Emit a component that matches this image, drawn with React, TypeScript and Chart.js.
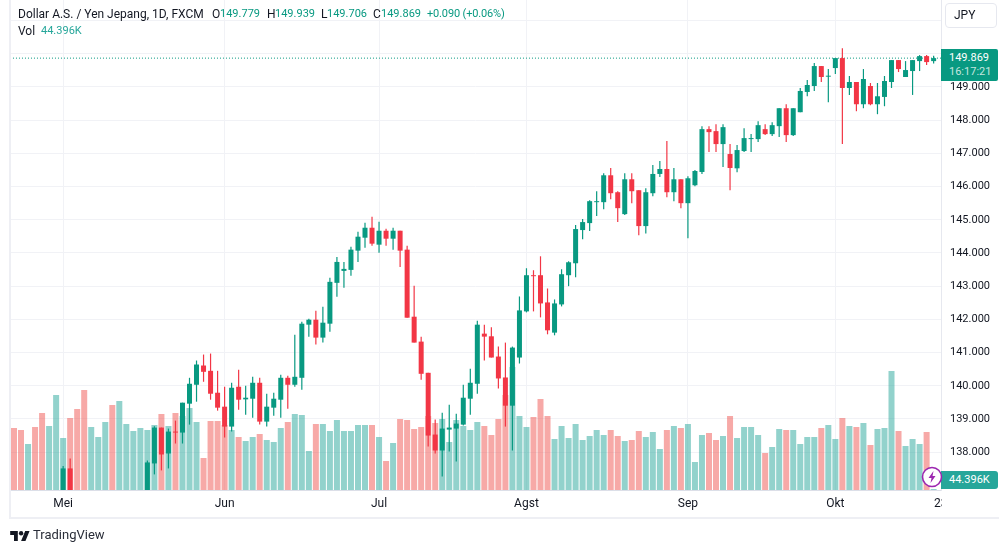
import { useRef, useEffect } from 'react';
import { Chart, registerables } from 'chart.js';

Chart.register(...registerables);

const UP = '#089981';
const DOWN = '#f23645';
const UP_VOL = 'rgba(38, 166, 154, 0.5)';
const DOWN_VOL = 'rgba(239, 83, 80, 0.5)';
const GRID = '#f1f2f6';
const TEXT = '#131722';
const FONT = 'Roboto, sans-serif';

const monthTicks = [7, 30, 52, 73, 96, 117, 132];
const monthLabels = ['Mei', 'Jun', 'Jul', 'Agst', 'Sep', 'Okt', '23'];
const priceTicks = [138, 139, 140, 141, 142, 143, 144, 145, 146, 147, 148, 149, 150, 151];
const lastPrice = 149.869;

const opens = [
  136.3, 136.1, 135.7, 136.0, 135.6, 135.0, 135.4, 136.3, 137.51, 136.4,
  135.1, 134.0, 134.8, 134.9, 135.1, 134.4, 135.7, 136.3, 136.4, 136.7,
  137.66, 138.74, 137.96, 138.62, 138.59, 139.46, 140.03, 140.61, 140.45, 139.79,
  139.37, 138.77, 139.97, 139.59, 139.61, 140.09, 138.92, 139.34, 139.58, 140.24,
  140.03, 140.24, 141.84, 141.99, 141.45, 141.87, 143.1, 143.46, 143.49, 144.07,
  144.46, 144.76, 144.25, 144.67, 144.43, 144.67, 144.1, 142.08, 141.33, 140.39,
  138.53, 138.05, 138.68, 138.71, 138.83, 139.61, 140.06, 141.57, 141.49, 140.88,
  140.25, 139.4, 140.85, 142.24, 143.33, 143.33, 142.51, 141.6, 142.45, 143.33,
  143.69, 144.69, 144.9, 145.53, 145.53, 146.34, 145.83, 145.17, 146.22, 145.89,
  144.81, 145.8, 146.38, 146.53, 145.83, 146.22, 145.5, 146.04, 146.44, 147.73,
  147.67, 147.28, 146.98, 146.55, 147.07, 147.43, 147.43, 147.73, 147.58, 147.82,
  148.36, 147.55, 148.24, 148.85, 149.03, 149.63, 149.31, 149.57, 149.87, 148.97,
  149.15, 148.48, 149.03, 148.48, 148.7, 149.15, 149.81, 149.3, 149.48, 149.78,
  149.93, 149.779,
];
const highs = [
  136.6, 136.4, 136.2, 136.3, 135.9, 135.6, 136.4, 137.58, 137.81, 136.7,
  135.4, 135.1, 135.0, 135.4, 135.4, 135.8, 136.6, 136.7, 136.8, 137.75,
  138.78, 138.74, 138.71, 138.95, 139.49, 140.24, 140.76, 140.94, 140.97, 140.45,
  139.97, 140.09, 140.48, 140.0, 140.27, 140.24, 139.76, 139.79, 140.33, 140.3,
  141.54, 141.93, 142.02, 142.26, 142.38, 143.25, 143.88, 143.73, 144.19, 144.64,
  144.91, 145.09, 144.94, 144.73, 144.76, 144.67, 144.22, 143.01, 141.48, 140.39,
  138.98, 139.19, 139.43, 139.16, 140.03, 140.51, 141.96, 141.84, 141.76, 141.18,
  141.3, 141.18, 142.69, 143.54, 143.48, 143.9, 142.93, 142.6, 143.51, 143.75,
  144.84, 145.02, 145.59, 145.86, 146.4, 146.56, 145.86, 146.4, 146.4, 145.89,
  145.95, 146.65, 146.77, 147.37, 146.56, 146.22, 146.31, 146.5, 147.82, 147.82,
  147.88, 147.88, 147.28, 147.25, 147.76, 147.58, 147.97, 147.88, 147.94, 148.36,
  148.48, 148.36, 148.97, 149.21, 149.72, 149.63, 149.54, 149.87, 150.17, 149.33,
  149.15, 149.54, 149.12, 149.12, 149.33, 149.81, 149.81, 149.78, 149.81, 149.96,
  149.96, 149.939,
];
const lows = [
  135.9, 135.6, 135.5, 135.4, 134.8, 134.6, 135.2, 136.1, 136.2, 134.8,
  133.6, 133.7, 134.0, 134.2, 134.2, 134.3, 135.2, 135.8, 136.0, 136.4,
  137.33, 137.45, 137.51, 138.26, 138.26, 138.83, 139.52, 140.12, 139.58, 139.25,
  138.44, 138.62, 139.28, 139.13, 139.04, 138.83, 138.77, 139.1, 139.04, 139.31,
  139.97, 139.88, 141.48, 141.24, 141.3, 141.63, 142.68, 142.95, 143.31, 143.73,
  144.16, 144.22, 144.01, 144.22, 144.1, 143.58, 142.05, 141.3, 140.18, 138.17,
  137.96, 137.27, 138.02, 137.72, 138.8, 139.13, 139.76, 140.76, 140.85, 139.92,
  138.77, 138.05, 140.67, 142.21, 142.24, 142.06, 141.55, 141.52, 142.39, 143.0,
  143.27, 144.41, 144.66, 145.11, 145.32, 145.62, 144.93, 145.14, 145.5, 144.53,
  144.59, 145.71, 146.29, 145.68, 145.56, 145.35, 144.44, 146.01, 146.38, 147.04,
  147.04, 146.59, 145.89, 146.43, 147.04, 147.04, 147.34, 147.55, 147.52, 147.49,
  147.34, 147.52, 148.24, 148.72, 148.88, 149.15, 148.54, 149.39, 147.28, 148.76,
  148.27, 148.36, 148.45, 148.18, 148.42, 148.97, 149.45, 149.3, 148.76, 149.48,
  149.66, 149.706,
];
const closes = [
  136.1, 135.8, 136.0, 135.6, 135.0, 135.4, 136.3, 137.51, 136.4, 135.1,
  134.0, 134.8, 134.9, 135.1, 134.4, 135.7, 136.3, 136.4, 136.7, 137.69,
  138.74, 137.93, 138.62, 138.59, 139.49, 140.06, 140.64, 140.42, 139.76, 139.34,
  138.77, 139.94, 139.58, 139.64, 140.09, 138.92, 139.37, 139.61, 140.24, 140.03,
  140.27, 141.87, 141.99, 141.45, 141.9, 143.13, 143.73, 143.52, 144.1, 144.49,
  144.76, 144.28, 144.67, 144.43, 144.67, 144.07, 142.05, 141.3, 140.36, 138.5,
  138.05, 138.71, 138.74, 138.86, 139.64, 140.09, 141.84, 141.48, 140.85, 140.22,
  139.4, 141.15, 142.27, 143.33, 143.3, 142.48, 141.67, 142.48, 143.36, 143.72,
  144.72, 144.93, 145.56, 145.56, 146.34, 145.8, 145.35, 146.22, 145.86, 144.81,
  145.83, 146.38, 146.53, 145.83, 146.22, 145.5, 146.25, 146.47, 147.73, 147.64,
  147.28, 147.79, 146.56, 147.1, 147.46, 147.46, 147.85, 147.58, 147.85, 148.36,
  147.55, 148.36, 148.88, 149.06, 149.63, 149.3, 149.34, 149.87, 148.97, 149.15,
  148.48, 149.24, 148.48, 148.72, 149.18, 149.81, 149.54, 149.51, 149.81, 149.93,
  149.75, 149.869,
];
// volume in thousands
const volumes = [
  2790, 2700, 2070, 2835, 3465, 2880, 4275, 2340, 3240, 3645,
  4500, 2835, 2385, 3060, 3825, 4005, 2970, 2655, 2790, 2700,
  2925, 3420, 2880, 3465, 3330, 3690, 3060, 1440, 3105, 3105,
  2925, 2700, 2385, 2205, 2385, 2520, 2250, 2160, 2790, 3060,
  3420, 3375, 1755, 2970, 2970, 2655, 3150, 2655, 2655, 2925,
  2925, 2925, 2385, 1305, 2115, 3195, 3150, 2745, 2835, 3330,
  3015, 3195, 2160, 3150, 2880, 2700, 3060, 2880, 2475, 3195,
  4275, 5535, 3330, 2835, 3285, 4095, 3330, 2295, 2880, 2340,
  2970, 2250, 2430, 2700, 2475, 2700, 2430, 2205, 2250, 2655,
  2385, 2610, 1845, 2700, 2880, 2790, 2970, 1260, 2475, 2565,
  2250, 2430, 3330, 2340, 2835, 2835, 2475, 1665, 1935, 2745,
  2700, 2700, 2070, 2385, 2385, 2790, 2925, 2295, 3240, 2880,
  2835, 3015, 2025, 2745, 2790, 5355, 2655, 1980, 2295, 2070,
  2610, 44.396,
];

// hides the part of the last date label that runs under the price scale
const scaleMask = {
  id: 'scaleMask',
  afterDraw(chart: Chart) {
    const { ctx, chartArea } = chart;
    ctx.save();
    ctx.fillStyle = '#ffffff';
    ctx.fillRect(chartArea.right + 1, chartArea.bottom + 1, 60, 26);
    ctx.restore();
  },
};

function fixBox(size: 'width' | 'height', value: number) {
  return (scale: any) => {
    scale[size] = value;
    scale.paddingLeft = 0;
    scale.paddingRight = 0;
    scale.paddingTop = 0;
    scale.paddingBottom = 0;
  };
}

function abs(x: number, y: number, extra: React.CSSProperties = {}): React.CSSProperties {
  return { position: 'absolute', left: x, top: y, whiteSpace: 'nowrap', lineHeight: '16px', ...extra };
}

function CandleChart() {
  const canvasRef = useRef<HTMLCanvasElement>(null);

  useEffect(() => {
    if (!canvasRef.current) return;
    const isUp = (i: number) => closes[i] >= opens[i];
    const chart = new Chart(canvasRef.current, {
      data: {
        datasets: [
          {
            type: 'bar',
            yAxisID: 'vol',
            order: 4,
            data: volumes.map((v, i) => ({ x: i, y: v })),
            backgroundColor: volumes.map((_, i) => (isUp(i) ? UP_VOL : DOWN_VOL)),
            maxBarThickness: 6,
            inflateAmount: 0,
          },
          {
            type: 'line',
            yAxisID: 'y',
            order: 3,
            data: [
              { x: -1, y: lastPrice },
              { x: 133, y: lastPrice },
            ],
            borderColor: UP,
            borderWidth: 1,
            borderDash: [1, 2],
            pointRadius: 0,
          },
          {
            type: 'bar',
            yAxisID: 'y',
            order: 2,
            data: highs.map((h, i) => ({ x: i, y: [lows[i], h] })),
            backgroundColor: highs.map((_, i) => (isUp(i) ? UP : DOWN)),
            maxBarThickness: 1.2,
            inflateAmount: 0,
          },
          {
            type: 'bar',
            yAxisID: 'y',
            order: 1,
            data: opens.map((o, i) => ({ x: i, y: [o, closes[i]] })),
            backgroundColor: opens.map((_, i) => (isUp(i) ? UP : DOWN)),
            maxBarThickness: 5,
            inflateAmount: 0,
          },
        ] as any,
      },
      options: {
        responsive: false,
        animation: false,
        layout: { padding: { left: 10, top: 0, right: 0, bottom: 0 } },
        datasets: { bar: { grouped: false, barPercentage: 1, categoryPercentage: 1 } },
        plugins: { legend: { display: false }, tooltip: { enabled: false } },
        scales: {
          x: {
            type: 'linear',
            offset: false,
            min: -0.57,
            max: 132.05,
            afterFit: fixBox('height', 63),
            afterBuildTicks(scale) {
              scale.ticks = monthTicks.map(value => ({ value }));
            },
            border: { color: '#dcdfe8' },
            grid: {
              drawTicks: false,
              offset: false,
              color: ctx => (ctx.tick && ctx.tick.value === 132 ? 'transparent' : GRID),
            },
            ticks: {
              autoSkip: false,
              maxRotation: 0,
              padding: 7,
              color: TEXT,
              font: { family: FONT, size: 12 },
              callback: value => monthLabels[monthTicks.indexOf(Number(value))],
            },
          },
          y: {
            position: 'right',
            min: 136.86,
            max: 151.62,
            afterFit: fixBox('width', 58),
            afterBuildTicks(scale) {
              scale.ticks = priceTicks.map(value => ({ value }));
            },
            border: { color: '#e6e8ef' },
            grid: { drawTicks: false, color: GRID },
            ticks: {
              padding: 9,
              color: TEXT,
              font: { family: FONT, size: 11 },
              callback: value => (Number(value) > 150 ? '' : Number(value).toFixed(3)),
            },
          },
          vol: {
            display: false,
            min: 0,
            max: 22050,
          },
        },
      },
      plugins: [scaleMask],
    });

    return () => chart.destroy();
  }, []);

  return <canvas ref={canvasRef} width={999} height={553} style={{ display: 'block' }} />;
}

const numeric: React.CSSProperties = { color: UP, fontSize: 11 };

export default function App() {
  return (
    <div
      style={{
        position: 'absolute',
        left: 0,
        top: 0,
        width: 999,
        height: 553,
        overflow: 'hidden',
        background: '#fff',
        fontFamily: FONT,
        fontSize: 12,
        color: TEXT,
      }}
    >
      <CandleChart />

      {/* frame */}
      <div style={{ position: 'absolute', left: 9, top: 0, width: 2, height: 519, background: '#eeeff4' }} />
      <div style={{ position: 'absolute', left: 9, top: 517, width: 990, height: 2, background: '#eeeff4' }} />

      {/* legend */}
      <span style={abs(18, 6)}>Dollar A.S. / Yen Jepang, 1D, FXCM</span>
      <span style={abs(212, 6)}>O</span>
      <span style={abs(220, 6, numeric)}>149.779</span>
      <span style={abs(267, 6)}>H</span>
      <span style={abs(275, 6, numeric)}>149.939</span>
      <span style={abs(321, 6)}>L</span>
      <span style={abs(327, 6, numeric)}>149.706</span>
      <span style={abs(373, 6)}>C</span>
      <span style={abs(381, 6, numeric)}>149.869</span>
      <span style={abs(427, 6, { ...numeric, letterSpacing: -0.15 })}>+0.090 (+0.06%)</span>
      <span style={abs(18, 23)}>Vol</span>
      <span style={abs(41, 23, { ...numeric, color: '#26a69a' })}>44.396K</span>

      {/* currency button */}
      <div
        style={{
          position: 'absolute',
          left: 945,
          top: 3,
          width: 52,
          height: 25,
          border: '1px solid #e6e8ef',
          borderRadius: 4,
          lineHeight: '23px',
          paddingLeft: 8,
          boxSizing: 'border-box',
        }}
      >
        JPY
      </div>

      {/* last price tag */}
      <div style={{ position: 'absolute', left: 941, top: 49, width: 57, height: 32, background: UP, borderRadius: '0 2px 2px 0' }} />
      <span style={abs(949, 50, { color: '#fff', fontSize: 11 })}>149.869</span>
      <span style={abs(949, 64, { color: '#c4e6df', fontSize: 11 })}>16:17:21</span>

      {/* volume tag */}
      <div style={{ position: 'absolute', left: 941, top: 471, width: 57, height: 18, background: '#26a69a', borderRadius: '0 3px 3px 0' }} />
      <span style={abs(949, 472, { color: '#fff', fontSize: 11 })}>44.396K</span>

      {/* bolt marker */}
      <svg style={{ position: 'absolute', left: 921, top: 466 }} width={22} height={22} viewBox="0 0 22 22">
        <circle cx={11} cy={11} r={9.5} fill="#fff" stroke="#9c27b0" strokeWidth={1.6} />
        <path d="M12.5 5 L7.5 12 H10.5 L9.5 17 L14.5 10 H11.5 Z" fill="#9c27b0" />
      </svg>

      {/* brand */}
      <svg style={{ position: 'absolute', left: 10, top: 530 }} width={20} height={12} viewBox="0 0 36 22">
        <path d="M14 20H7V9H0V2h14v18zM28 20h-8l7.5-18h8L28 20z" fill={TEXT} />
        <circle cx={20} cy={6} r={4} fill={TEXT} />
      </svg>
      <span style={abs(33, 527, { fontSize: 13, color: '#2a2e39' })}>TradingView</span>
    </div>
  );
}
